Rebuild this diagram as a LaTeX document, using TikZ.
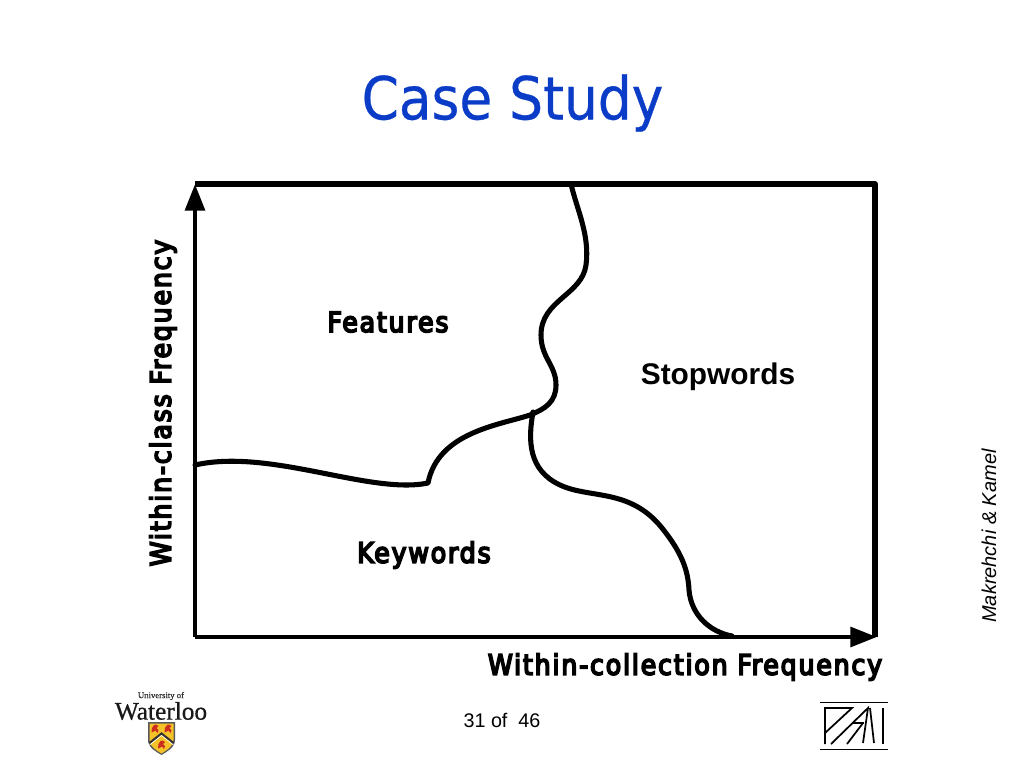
\documentclass[tikz,border=0pt]{standalone}
\usepackage{fontspec}
\setmainfont{DejaVu Sans Condensed}
\newfontfamily\titlefont[FakeBold=0.5]{DejaVu Sans Condensed}
\newfontfamily\labelfont[FakeBold=6,LetterSpace=6.6]{DejaVu Sans Condensed}
\newfontfamily\lib{Liberation Sans}
\newfontfamily\serifw[FakeBold=0.6]{Liberation Serif}
\usetikzlibrary{arrows.meta}
\definecolor{titleblue}{RGB}{10,60,200}
\definecolor{shieldgold}{RGB}{245,195,40}
\definecolor{shieldred}{RGB}{205,45,30}
\tikzset{
  x=0.75pt,y=-0.75pt,
  frameline/.style={line width=3.8pt,line join=round},
  axisline/.style={line width=3.7pt,-{Triangle[length=20pt,width=14.5pt,sharp]}},
  boundary/.style={line width=3.8pt,line cap=round,line join=round},
  axislabel/.style={font=\labelfont\fontsize{21}{24}\selectfont},
  regionlabel/.style={font=\labelfont\fontsize{21}{24}\selectfont},
  pamiline/.style={line width=1.3pt},
  lion/.pic={\fill[shieldred] (-3.5,3.5) -- (-3,-1) -- (-1,-4) -- (1,-4.5) -- (3.5,-3) -- (1.5,-1) -- (3.5,1) -- (2.5,4) -- (0.5,1.5) -- cycle;}
}
\begin{document}
\begin{tikzpicture}
\useasboundingbox (0,0) rectangle (1024,768);
\fill[white] (0,0) rectangle (1024,768);
\node[text=titleblue,font=\titlefont\fontsize{44.5}{50}\selectfont] (title) at (512.5,103) {Case Study};
\coordinate (tl) at (195,184);
\coordinate (tr) at (875,184);
\coordinate (br) at (875,637);
\coordinate (bl) at (195,637);
\draw[frameline] (tl) -- (tr) -- (br);
\draw[axisline] (bl) -- (195,184);
\draw[axisline] (bl) -- (877,637);
\draw[boundary] (571,184) .. controls (577,210) and (590,235) .. (586,265)
  .. controls (582,295) and (541,300) .. (541,335)
  .. controls (541,358) and (556,365) .. (556,385)
  .. controls (556,402) and (545,409) .. (530,415)
  .. controls (500,425) and (438,432) .. (428,483)
  .. controls (370,495) and (270,448) .. (195,465);
\draw[boundary] (533,412) .. controls (528,440) and (528,470) .. (560,485)
  .. controls (590,499) and (630,488) .. (662,528)
  .. controls (682,553) and (688,570) .. (689,590)
  .. controls (691,615) and (710,632) .. (732,636);
\node[regionlabel] (features) at (388,322) {Features};
\node[font=\lib\bfseries\fontsize{22.4}{26}\selectfont] (stopwords) at (718,377) {Stopwords};
\node[regionlabel] (keywords) at (424,555) {Keywords};
\node[axislabel,rotate=90] (ylab) at (163,403) {Within-class Frequency};
\node[axislabel] (xlab) at (685,667) {Within-collection Frequency};
\node[font=\lib\itshape\fontsize{15}{18}\selectfont,rotate=90] (auth) at (989,536) {Makrehchi \& Kamel};
\node[font=\lib\fontsize{14.8}{18}\selectfont] (page) at (502,720) {31 of~~46};
\node[font=\serifw\fontsize{6.5}{7}\selectfont,text=black!80,inner sep=0pt] (uni) at (161,696) {University of};
\node[font=\serifw\fontsize{19}{20}\selectfont,text=black!90,inner sep=0pt] (wat) at (161,711) {Waterloo};
\fill[black!65] (148,722) -- (175,722) -- (175,740) .. controls (175,748) and (166,752) .. (161.5,755) .. controls (157,752) and (148,748) .. (148,740) -- cycle;
\fill[shieldgold] (149.5,723.5) -- (173.5,723.5) -- (173.5,740) .. controls (173.5,747) and (165,751) .. (161.5,753.5) .. controls (158,751) and (149.5,747) .. (149.5,740) -- cycle;
\draw[black!80,line width=1.6pt] (149.5,743) -- (161.5,733.5) -- (173.5,743);
\draw[white,line width=.5pt] (149.5,745) -- (161.5,735.5) -- (173.5,745);
\pic at (155,729) {lion};
\pic at (168,729) {lion};
\pic at (161.5,745) {lion};
\draw[pamiline] (820,702.5) -- (888,702.5);
\draw[pamiline] (820,749.5) -- (888,749.5);
\draw[pamiline] (825,744) -- (825,708) -- (852,708) -- (825,733);
\draw[pamiline] (831,744) -- (868,708) -- (863,743);
\draw[pamiline] (847,744) -- (863,723);
\draw[pamiline] (853,723) -- (864,723);
\draw[pamiline] (870,708) -- (874,743);
\draw[pamiline] (883,708) -- (883,744);
\end{tikzpicture}
\end{document}
